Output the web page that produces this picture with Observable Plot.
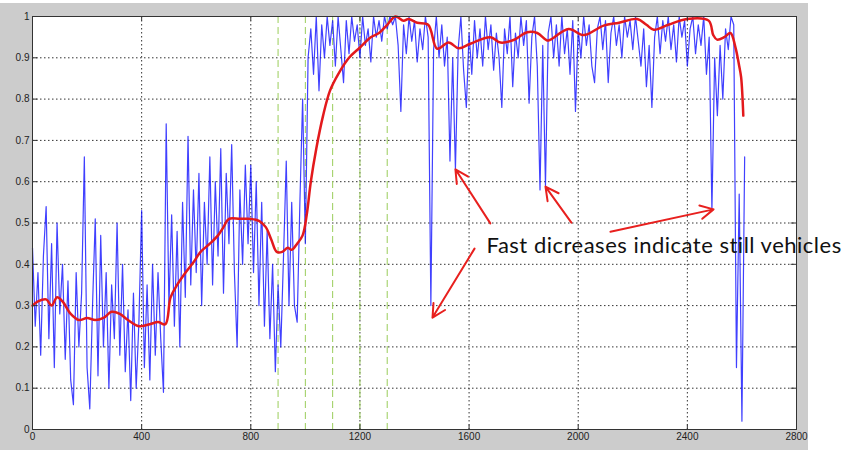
<!DOCTYPE html>
<html>
<head>
<meta charset="utf-8">
<script src="https://cdn.jsdelivr.net/npm/d3@7"></script>
<script src="https://cdn.jsdelivr.net/npm/@observablehq/plot@0.6"></script>
<style>
  html, body { margin: 0; padding: 0; background: #ffffff; }
  #wrap { position: relative; width: 854px; height: 450px; overflow: hidden; }
  #bg { position: absolute; left: 0; top: 3px; width: 808px; height: 447px; background: #cccccc; }
  #chart { position: absolute; left: 0; top: 0; }
  #chart g[aria-label="text"] text { letter-spacing: 0.5px; }
</style>
</head>
<body>
<div id="wrap"><div id="bg"></div><div id="chart"></div></div>
<script>
// Blue (raw) series: one sample every 10 units from 0 to 2610
const blueStep = 10;
const blueY = [
  0.44,0.25,0.38,0.18,0.42,0.54,0.22,0.45,0.15,0.50,0.28,0.40,0.17,0.36,0.12,0.06,0.38,0.20,0.33,0.66,
  0.15,0.05,0.30,0.51,0.13,0.47,0.20,0.38,0.10,0.35,0.22,0.50,0.18,0.40,0.14,0.29,0.07,0.33,0.10,0.26,
  0.53,0.15,0.35,0.12,0.40,0.18,0.38,0.22,0.09,0.74,0.30,0.52,0.25,0.48,0.20,0.55,0.32,0.71,0.35,0.58,
  0.38,0.62,0.30,0.55,0.40,0.66,0.35,0.60,0.42,0.68,0.33,0.62,0.45,0.69,0.38,0.20,0.58,0.40,0.64,0.45,
  0.64,0.38,0.60,0.30,0.55,0.25,0.48,0.22,0.40,0.14,0.35,0.20,0.42,0.65,0.30,0.55,0.30,0.26,0.55,0.80,
  0.45,0.90,0.97,0.86,1.00,0.82,0.98,0.90,1.00,0.93,0.99,0.88,1.00,0.92,0.84,0.99,0.91,1.00,0.94,0.98,
  0.90,1.00,0.93,0.97,0.89,1.00,0.95,0.99,0.94,1.00,0.97,1.00,0.98,1.00,0.93,0.77,0.98,0.91,1.00,0.94,
  0.99,0.89,0.97,0.92,1.00,0.95,0.30,0.92,1.00,0.90,0.98,0.88,0.95,0.65,0.90,0.63,0.92,1.00,0.87,0.78,
  0.96,0.86,0.99,0.90,0.97,0.88,1.00,0.92,0.98,0.87,0.96,0.90,0.78,0.97,0.91,1.00,0.83,0.96,0.90,1.00,
  0.93,0.99,0.79,0.95,1.00,0.88,0.58,0.93,0.59,0.96,1.00,0.90,0.98,0.88,1.00,0.91,0.97,0.86,0.99,0.77,
  0.97,0.90,1.00,0.93,0.98,0.88,0.84,0.97,1.00,0.92,0.99,0.84,0.96,1.00,0.93,0.98,0.90,1.00,0.95,0.99,
  0.92,1.00,0.94,0.88,0.97,0.83,0.93,0.78,0.95,1.00,0.91,0.99,0.94,1.00,0.92,0.98,0.89,1.00,0.95,0.99,
  0.88,0.97,1.00,0.91,0.98,0.93,1.00,0.86,0.95,0.53,0.90,0.76,0.93,0.80,0.97,0.92,1.00,0.98,0.15,0.57,0.02,0.66
];

// Red (smoothed) series
const redX = [0,20,50,70,90,110,140,170,200,230,260,290,320,350,390,430,460,487,506,530,561,590,616,650,680,700,720,760,800,830,855,875,895,915,935,950,970,990,1005,1020,1040,1065,1090,1120,1160,1200,1240,1270,1300,1330,1360,1378,1410,1450,1483,1525,1562,1605,1678,1715,1763,1813,1850,1886,1898,1965,2020,2093,2150,2216,2250,2277,2330,2399,2478,2495,2509,2535,2558,2576,2590,2597,2605];
const redY = [0.30,0.31,0.315,0.30,0.32,0.31,0.28,0.265,0.27,0.265,0.27,0.285,0.28,0.265,0.25,0.255,0.26,0.255,0.32,0.35,0.38,0.405,0.43,0.45,0.47,0.49,0.51,0.51,0.51,0.505,0.49,0.46,0.43,0.43,0.44,0.435,0.45,0.47,0.52,0.60,0.68,0.76,0.82,0.86,0.90,0.925,0.95,0.96,0.98,1.0,0.99,0.994,0.985,0.98,0.922,0.937,0.923,0.934,0.95,0.937,0.943,0.962,0.96,0.942,0.944,0.97,0.955,0.978,0.985,0.994,0.98,0.968,0.98,0.994,0.99,0.955,0.944,0.95,0.96,0.926,0.88,0.853,0.76];

// Marker lines (green dashed)
const markerX = [900,1000,1100,1200,1300];

// Ticks
const xTicks = [0,400,800,1200,1600,2000,2400,2800];
const yTicks = [0,0.1,0.2,0.3,0.4,0.5,0.6,0.7,0.8,0.9,1];
const xGrid = [400,800,1200,1600,2000,2400];
const yGrid = [0.1,0.2,0.3,0.4,0.5,0.6,0.7,0.8,0.9];

// Annotation
const noteText = ["Fast dicreases indicate still vehicles"];
const noteX = [1664];
const noteY = [0.445];
const arrowX1 = [1678,1620,1975,2118];
const arrowY1 = [0.499,0.438,0.501,0.479];
const arrowX2 = [1550,1466,1880,2496];
const arrowY2 = [0.63,0.271,0.588,0.533];

const blue = blueY.map((y, i) => ({x: i * blueStep, y}));
const red = redX.map((x, i) => ({x, y: redY[i]}));
const arrows = arrowX1.map((x1, i) => ({x1, y1: arrowY1[i], x2: arrowX2[i], y2: arrowY2[i]}));
const notes = noteText.map((t, i) => ({t, x: noteX[i], y: noteY[i]}));

const fmtY = d3.format("~g");

const chart = Plot.plot({
  width: 854,
  height: 450,
  marginLeft: 32,
  marginRight: 58,
  marginTop: 16,
  marginBottom: 21,
  style: {background: "transparent", fontFamily: "'Liberation Sans', Arial, sans-serif", fontSize: "10px", color: "#222"},
  x: {domain: [0, 2800], ticks: xTicks, tickFormat: d => String(d), tickSize: 0, tickPadding: 3, label: null},
  y: {domain: [0, 1], ticks: yTicks, tickFormat: fmtY, tickSize: 0, tickPadding: 3, label: null},
  marks: [
    Plot.frame({fill: "white", stroke: null}),
    Plot.ruleX(xGrid, {stroke: "#333", strokeDasharray: "1.5,2.5", strokeWidth: 1}),
    Plot.ruleY(yGrid, {stroke: "#333", strokeDasharray: "1.5,2.5", strokeWidth: 1}),
    Plot.ruleX(markerX, {stroke: "#9acd5a", strokeDasharray: "7,4", strokeWidth: 1}),
    Plot.line(blue, {x: "x", y: "y", stroke: "#0000ff", strokeWidth: 1.2, strokeOpacity: 0.75}),
    Plot.line(red, {x: "x", y: "y", stroke: "#e3191c", strokeWidth: 2.5, curve: "catmull-rom"}),
    // inward ticks (bottom/top, left/right)
    Plot.ruleX(xTicks, {y1: 0, y2: 0.011, stroke: "#333"}),
    Plot.ruleX(xTicks, {y1: 1, y2: 0.989, stroke: "#333"}),
    Plot.ruleY(yTicks, {x1: 0, x2: 20, stroke: "#333"}),
    Plot.ruleY(yTicks, {x1: 2800, x2: 2780, stroke: "#333"}),
    Plot.frame({stroke: "#333", strokeWidth: 1}),
    Plot.arrow(arrows, {x1: "x1", y1: "y1", x2: "x2", y2: "y2", stroke: "#e8201e", strokeWidth: 2, headLength: 11, headAngle: 55}),
    Plot.text(notes, {x: "x", y: "y", text: "t", textAnchor: "start", lineAnchor: "middle", fontSize: 22, fontFamily: "Lato, 'Open Sans', sans-serif", fill: "#111"}),
    Plot.axisX({ticks: xTicks, tickFormat: d => String(d), tickSize: 0, tickPadding: 3, fontSize: 10}),
    Plot.axisY({ticks: yTicks, tickFormat: fmtY, tickSize: 0, tickPadding: 3, fontSize: 10})
  ]
});
document.getElementById("chart").appendChild(chart);
</script>
</body>
</html>
